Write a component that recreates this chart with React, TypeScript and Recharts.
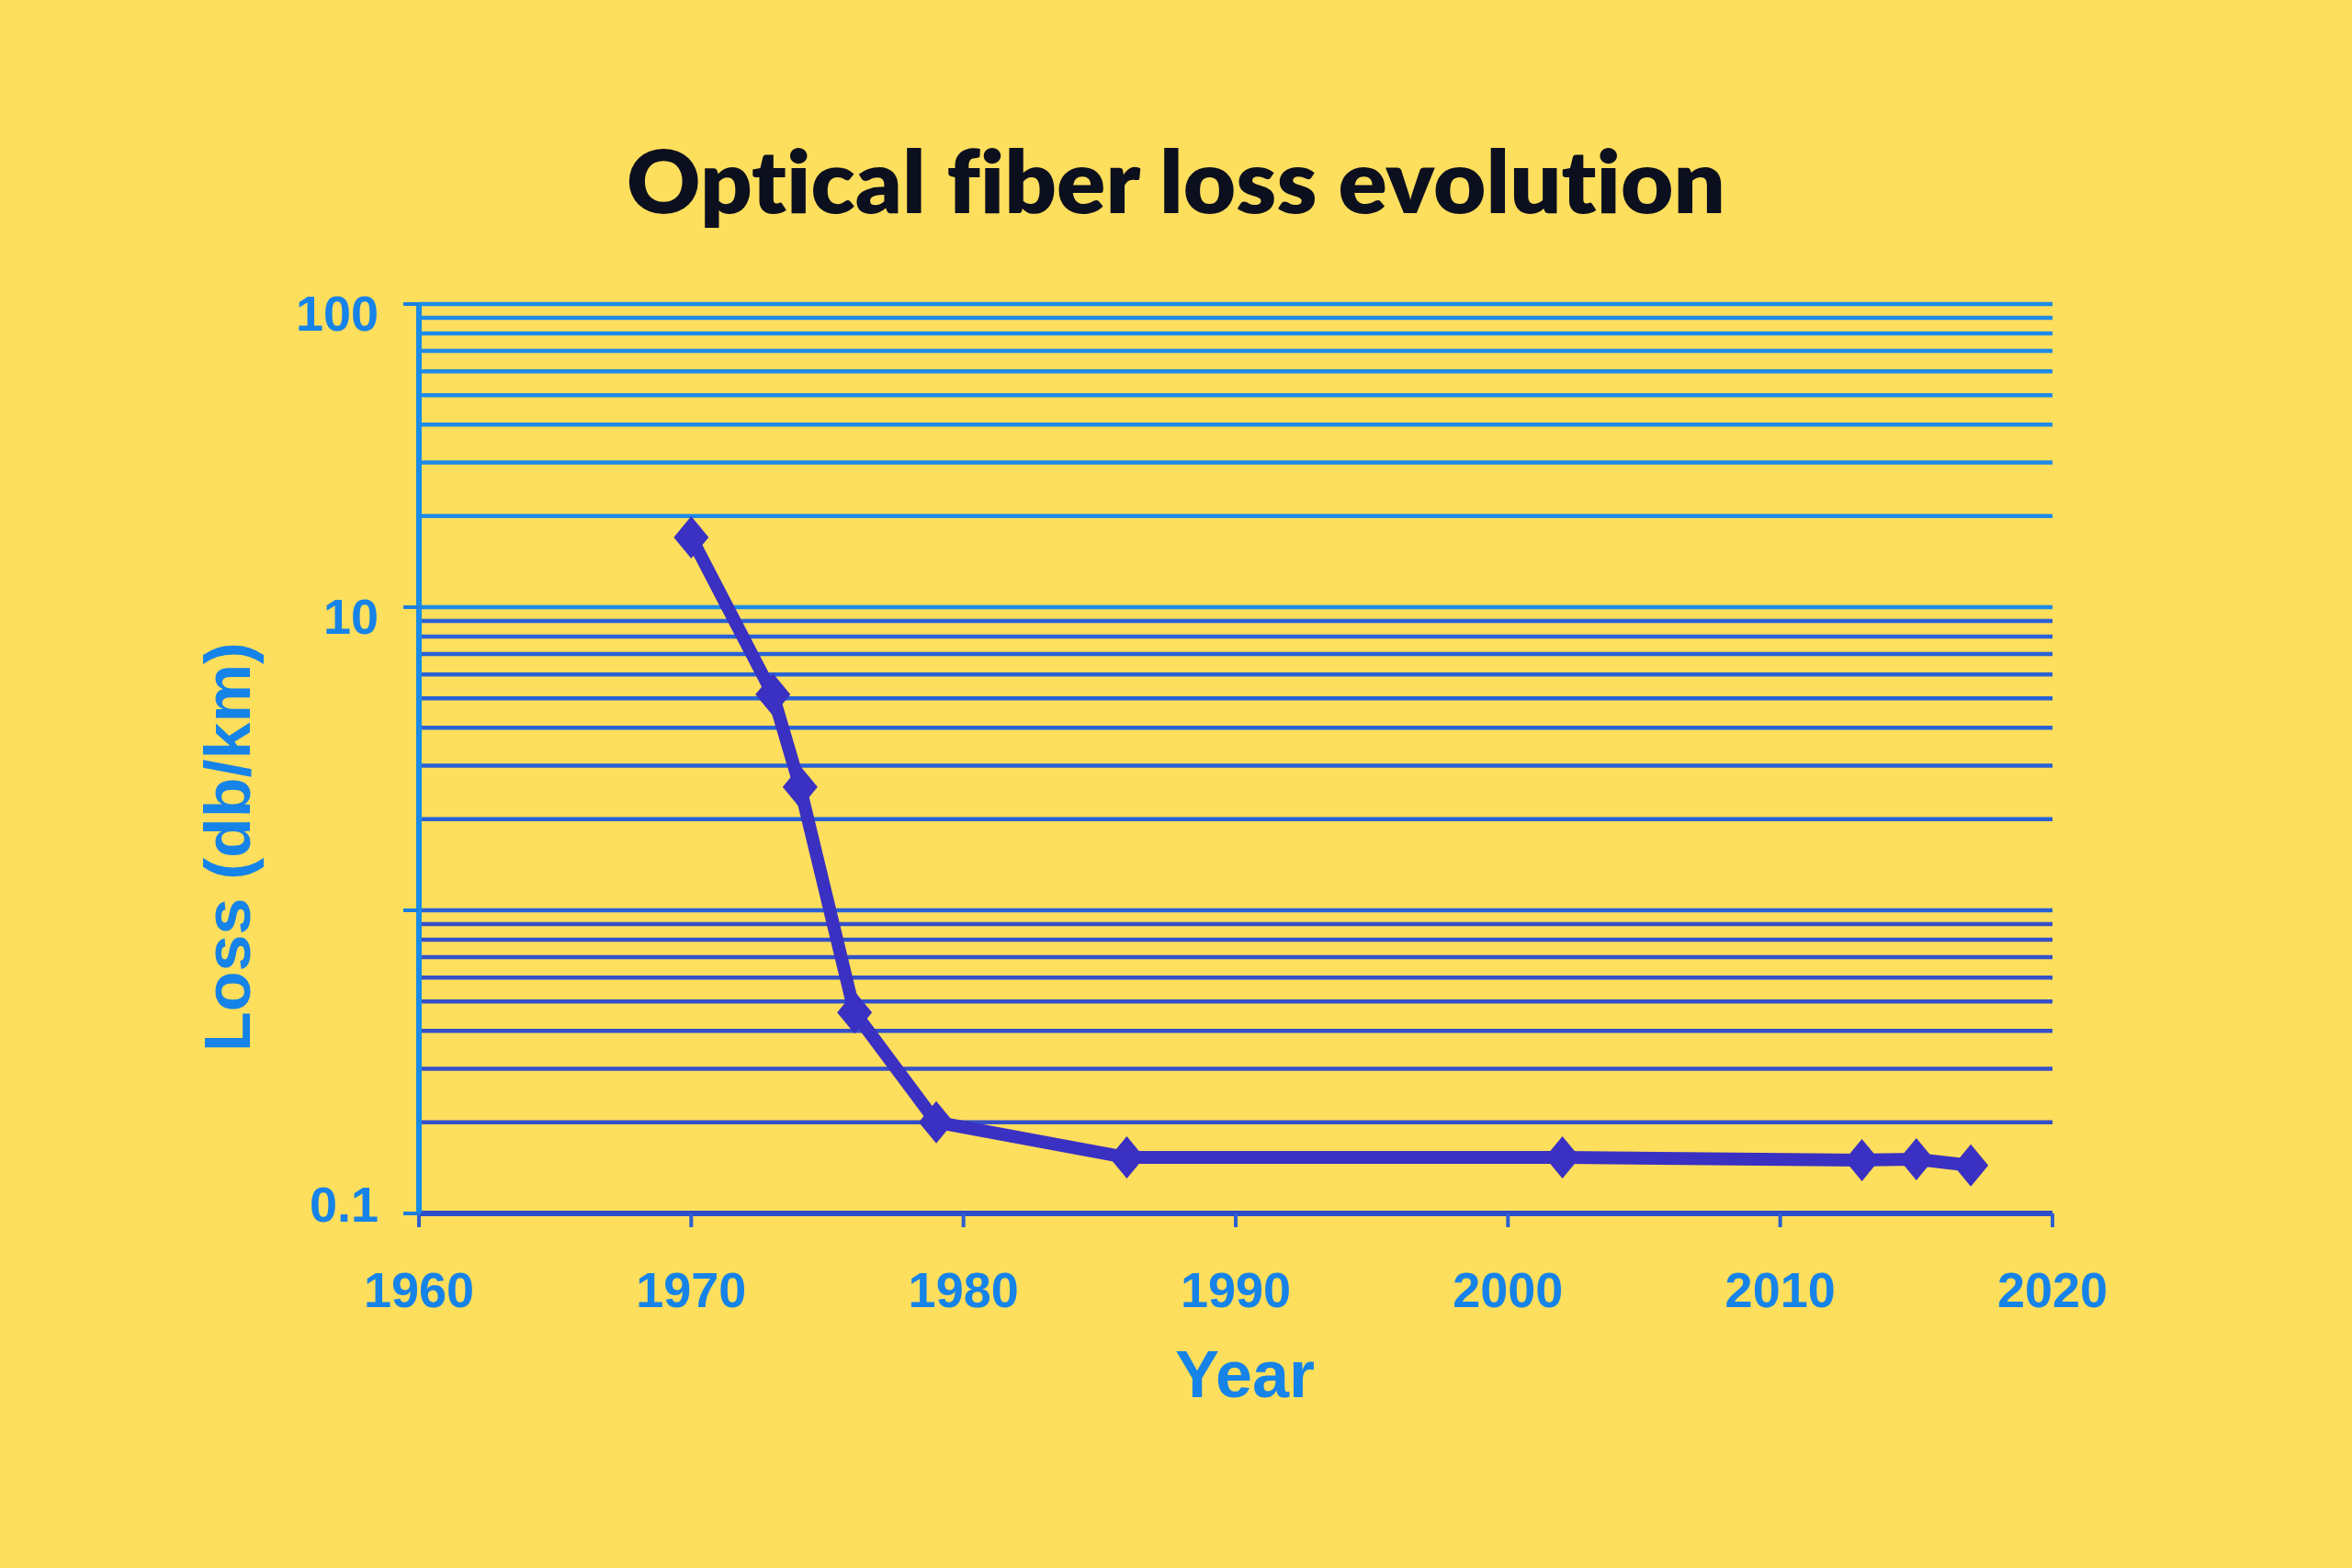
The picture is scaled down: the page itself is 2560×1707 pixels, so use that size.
import React from 'react';
import { LineChart, Line, XAxis, YAxis, ReferenceLine } from 'recharts';

const years = [1970, 1973, 1974, 1976, 1979, 1986, 2002, 2013, 2015, 2017];
const lossValues = [17, 5.15, 2.55, 0.46, 0.2, 0.153, 0.153, 0.15, 0.151, 0.144];
const xTicks = [1960, 1970, 1980, 1990, 2000, 2010, 2020];
const yTicks = [0.1, 1, 10, 100];
const yTickLabels = ['0.1', '', '10', '100'];
const gridValues = [
  0.2, 0.3, 0.4, 0.5, 0.6, 0.7, 0.8, 0.9,
  1, 2, 3, 4, 5, 6, 7, 8, 9,
  10, 20, 30, 40, 50, 60, 70, 80, 90, 100,
];

const data = years.map((year, i) => ({ year, loss: lossValues[i] }));

const BG = '#FEDE5D';
const TICK_COLOR = '#1683E8';
const LINE_COLOR = '#3A30C2';

const gridColor = (v: number) => (v >= 10 ? '#1E8AE6' : v >= 1 ? '#2A62D6' : '#3450C8');

const Diamond = (props: any) => {
  const { cx, cy } = props;
  if (cx == null || cy == null) return null;
  return (
    <polygon
      points={`${cx},${cy - 23} ${cx + 19},${cy} ${cx},${cy + 23} ${cx - 19},${cy}`}
      fill={LINE_COLOR}
    />
  );
};

const YTick = (props: any) => {
  const { x, y, payload } = props;
  const idx = yTicks.indexOf(payload.value);
  const label = idx >= 0 ? yTickLabels[idx] : String(payload.value);
  const shift = payload.value === 0.1 ? -10 : 10;
  return (
    <text x={x - 6} y={y + shift} dy="0.355em" textAnchor="end" fill={TICK_COLOR}
      fontFamily="'Liberation Sans', Arial, sans-serif" fontWeight={700} fontSize={54}>
      {label}
    </text>
  );
};

const XTick = (props: any) => {
  const { x, y, payload } = props;
  return (
    <text x={x} y={y} dy="0.71em" textAnchor="middle" fill={TICK_COLOR}
      fontFamily="'Liberation Sans', Arial, sans-serif" fontWeight={700} fontSize={54}>
      {payload.value}
    </text>
  );
};

export default function App() {
  return (
    <div style={{ position: 'absolute', left: 0, top: 0, width: 2560, height: 1707, background: BG, overflow: 'hidden' }}>
      <div style={{ position: 'absolute', left: 0, top: 0 }}>
        <LineChart width={2560} height={1707} data={data}
          margin={{ top: 331, right: 326, bottom: 326, left: 336 }}>
          {gridValues.map((v) => (
            <ReferenceLine key={v} y={v} stroke={gridColor(v)} strokeWidth={4.5} />
          ))}
          <XAxis dataKey="year" type="number" domain={[1960, 2020]} ticks={xTicks}
            height={60} stroke="#2D4CC8" strokeWidth={6} tickSize={15} tickMargin={49}
            tickLine={{ stroke: '#2D60D0', strokeWidth: 4 }} tick={<XTick />} allowDataOverflow />
          <YAxis type="number" scale="log" domain={[0.1, 100]} ticks={yTicks}
            width={120} stroke="#1A8BE6" strokeWidth={6} tickSize={17} tickMargin={21}
            tickLine={{ stroke: '#1A7EE0', strokeWidth: 4 }} tick={<YTick />} allowDataOverflow />
          <Line type="linear" dataKey="loss" stroke={LINE_COLOR} strokeWidth={14}
            strokeLinejoin="round" dot={<Diamond />} activeDot={false} isAnimationActive={false} />
        </LineChart>
      </div>
      <svg width={2560} height={1707} style={{ position: 'absolute', left: 0, top: 0, pointerEvents: 'none' }}>
        <text x={1280} y={232} textAnchor="middle" fill="#0B0F1E"
          fontFamily="Lato, 'Open Sans', sans-serif" fontWeight={800} fontSize={94}
          style={{ fontVariantLigatures: 'none', fontFeatureSettings: '"liga" 0' }}
          textLength={1196} lengthAdjust="spacingAndGlyphs">
          Optical fiber loss evolution
        </text>
        <text x={0} y={0} transform="translate(272 922) rotate(-90)" textAnchor="middle"
          fill={TICK_COLOR} fontFamily="'Liberation Sans', Arial, sans-serif" fontWeight={700}
          fontSize={70} textLength={446} lengthAdjust="spacingAndGlyphs">
          Loss (db/km)
        </text>
        <text x={1355} y={1521} textAnchor="middle" fill={TICK_COLOR}
          fontFamily="'Liberation Sans', Arial, sans-serif" fontWeight={700} fontSize={72}>
          Year
        </text>
      </svg>
    </div>
  );
}
